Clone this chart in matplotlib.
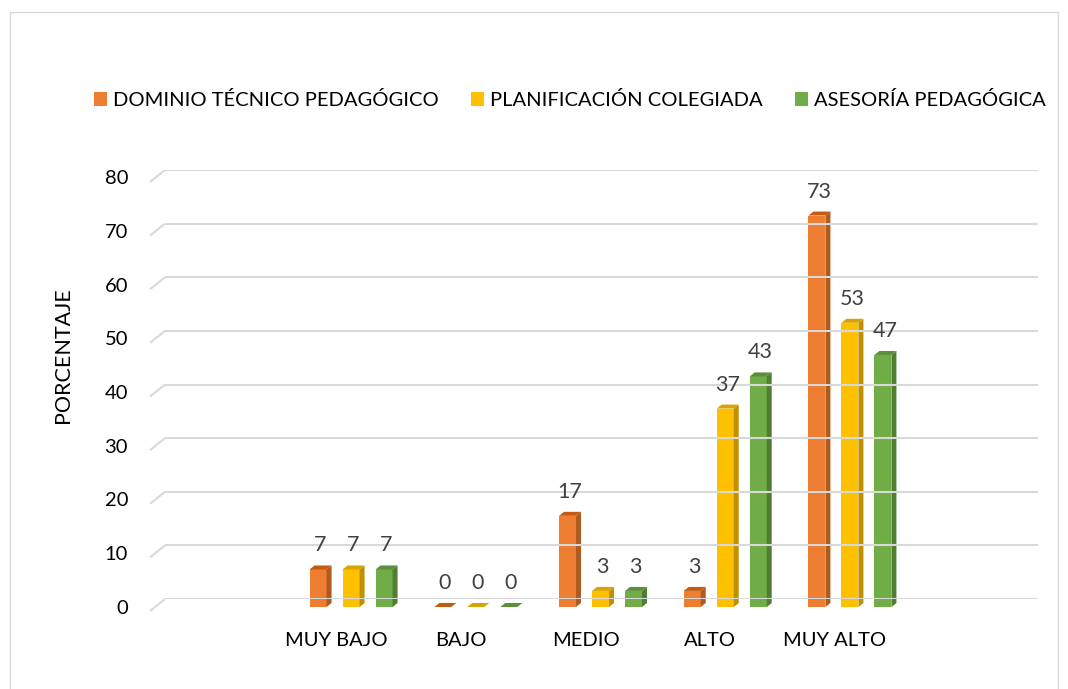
import matplotlib
matplotlib.use("Agg")
import matplotlib.pyplot as plt
from matplotlib.patches import Patch, Polygon, Rectangle
from matplotlib.transforms import offset_copy

# data
categories = ["", "MUY BAJO", "BAJO", "MEDIO", "ALTO", "MUY ALTO", ""]
series_names = ["DOMINIO TÉCNICO PEDAGÓGICO", "PLANIFICACIÓN COLEGIADA", "ASESORÍA PEDAGÓGICA"]
dominio = [None, 7, 0, 17, 3, 73, None]
planificacion = [None, 7, 0, 3, 37, 53, None]
asesoria = [None, 7, 0, 3, 43, 47, None]
y_ticks = [0, 10, 20, 30, 40, 50, 60, 70, 80]

front_colors = ["#ED7D31", "#FFC000", "#70AD47"]
side_colors = ["#AE5A21", "#BF9000", "#507E32"]
top_colors = ["#C55A11", "#D9A300", "#5B8F39"]

plt.rcParams["font.family"] = ["Lato", "DejaVu Sans"]

W, H = 1068, 689
fig = plt.figure(figsize=(W / 100, H / 100), dpi=100)

# outer chart frame
fig.patches.append(Rectangle((10 / W, -0.05), 1048 / W, 1.05 - 12 / H,
                             transform=fig.transFigure, fill=False,
                             edgecolor="#D9D9D9", linewidth=1))

# axes = back wall of the 3D plot
left, right, base, top = 165, 1038, 599, 170
ax = fig.add_axes([left / W, (H - base) / H, (right - left) / W, (base - top) / H])
ax.set_xlim(-0.5, len(categories) - 0.5)
ax.set_ylim(0, 80)
ax.axis("off")

ppx = (right - left) / (len(categories))   # pixels per x unit
ppy = (base - top) / 80.0                  # pixels per y unit

# grid lines with the little slanted floor segment
for v in y_ticks:
    ax.plot([-0.5 - 15 / ppx, -0.5], [v - 12 / ppy, v], color="#D9D9D9",
            lw=1.5, clip_on=False, solid_capstyle="butt")
    ax.hlines(v, -0.5, len(categories) - 0.5, color="#D9D9D9", lw=1.5)
    tr = offset_copy(ax.transData, fig, x=-37, y=-9, units="dots")
    ax.text(-0.5, v, str(v), transform=tr, ha="right", va="center",
            fontsize=14.5, color="#000000")

# category labels on front edge
lab_tr = offset_copy(ax.transData, fig, x=-16, y=-41, units="dots")
for i, c in enumerate(categories):
    ax.text(i, 0, c, transform=lab_tr, ha="center", va="center",
            fontsize=14.5, color="#000000")

# bars
front = offset_copy(ax.transData, fig, x=-1, y=-8, units="dots")
bar_w = 17 / ppx
step = 33 / ppx
dx = 5 / ppx
dy = 4 / ppy
for k, vals in enumerate([dominio, planificacion, asesoria]):
    for i, v in enumerate(vals):
        if v is None:
            continue
        x0 = i + (k - 1) * step - bar_w / 2
        x1 = x0 + bar_w
        if v > 0:
            ax.add_patch(Rectangle((x0, 0), bar_w, v, facecolor=front_colors[k],
                                   edgecolor="none", transform=front, clip_on=False))
            ax.add_patch(Polygon([(x1, 0), (x1, v), (x1 + dx, v + dy), (x1 + dx, dy)],
                                 closed=True, facecolor=side_colors[k],
                                 edgecolor="none", transform=front, clip_on=False))
        ax.add_patch(Polygon([(x0, v), (x1, v), (x1 + dx, v + dy), (x0 + dx, v + dy)],
                             closed=True, facecolor=top_colors[k], edgecolor="none",
                             transform=front, clip_on=False))
        val_tr = offset_copy(ax.transData, fig, x=1, y=-8 + 24, units="dots")
        ax.text(x0 + bar_w / 2, v, str(v), transform=val_tr, ha="center",
                va="center", fontsize=15.5, color="#404040")

# axis title
fig.text(63 / W, 1 - 355 / H, "PORCENTAJE", rotation=90, ha="center",
         va="center", fontsize=15.5, color="#000000")

# legend
handles = [Patch(facecolor=c, edgecolor="none") for c in front_colors]
fig.legend(handles, series_names, loc="center", ncol=3,
           bbox_to_anchor=(570 / W, 1 - 100 / H), frameon=False,
           fontsize=14.5, handlelength=0.65, handleheight=0.65,
           handletextpad=0.3, columnspacing=1.6)

fig.savefig("out.png", dpi=100)
